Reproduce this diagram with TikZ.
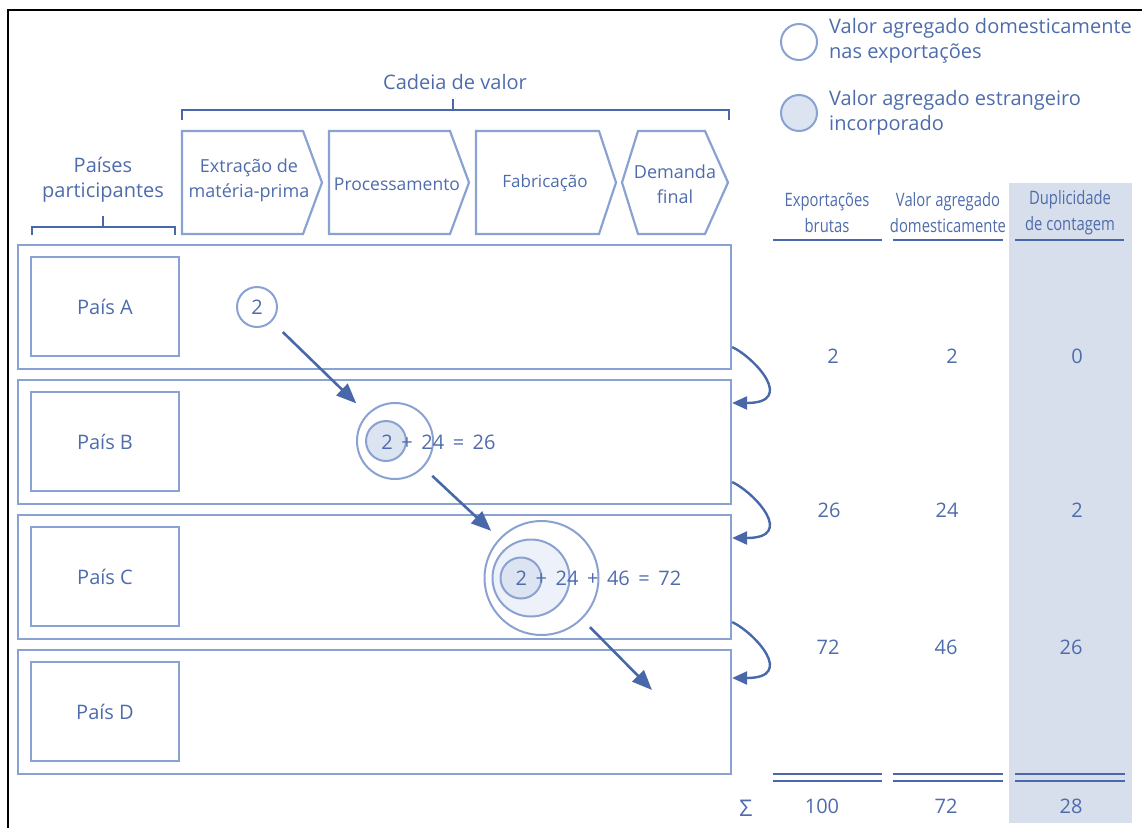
\documentclass[tikz,border=0pt]{standalone}
\usepackage{fontspec}
\setmainfont{Open Sans}
\usetikzlibrary{arrows.meta,calc}
\definecolor{tb}{RGB}{78,108,172}
\definecolor{lb}{RGB}{138,162,210}
\definecolor{db}{RGB}{72,104,170}
\definecolor{colshade}{RGB}{215,223,236}
\definecolor{fillin}{RGB}{220,227,241}
\definecolor{fillmid}{RGB}{237,241,249}
\newcommand{\cnd}[1]{\scalebox{0.8}[1]{#1}}
\begin{document}
\begin{tikzpicture}[x=1pt,y=-1pt,
  txt/.style={text=tb, font=\fontsize{20}{25}\selectfont, inner sep=0, align=center},
  hdr/.style={text=tb, font=\fontsize{18.5}{26}\selectfont, inner sep=0, align=center},
  stg/.style={text=tb, font=\fontsize{18}{25}\selectfont, inner sep=0, align=center},
  rowbox/.style={draw=lb, line width=2.2pt, minimum width=713pt, minimum height=124pt, inner sep=0},
  ctrybox/.style={draw=lb, line width=2.2pt, minimum width=148pt, minimum height=99pt, inner sep=0, text=tb, font=\fontsize{20}{22}\selectfont},
  chev/.style={draw=lb, line width=2.2pt, line join=miter},
  brk/.style={draw=db, line width=2.4pt},
  ring/.style={circle, draw=lb, line width=2pt, inner sep=0},
  flow/.style={draw=db, line width=2.6pt, -{Triangle[length=20pt,width=16pt]}},
  loop/.style={draw=db, line width=2.4pt, -{Triangle[length=15pt,width=13pt]}},
  uline/.style={draw=db, line width=2.5pt},
  dline/.style={draw=db, line width=2.2pt}
]
\useasboundingbox (0,0) rectangle (1142,827);
% frame
\draw[black, line width=1.8pt] (8,830) -- (8,10) -- (1145,10);
% shaded column
\fill[colshade] (1009,183) rectangle (1132,823);

% value chain header
\node[txt] (cadeia) at (455,82) {Cadeia de valor};
\draw[brk] (182,120) -- (182,110) -- (729,110) -- (729,120);
\draw[brk] (453,110) -- (453,99);
\node[txt] (paises) at (103,180) {Países\\participantes};
\draw[brk] (32,235) -- (32,227) -- (175,227) -- (175,235);
\draw[brk] (103,227) -- (103,216);

% chevrons
\draw[chev] (182,131) -- (303,131) -- (322,182.5) -- (303,234) -- (182,234) -- cycle;
\draw[chev] (329,131) -- (450,131) -- (469,182.5) -- (450,234) -- (329,234) -- cycle;
\draw[chev] (476,131) -- (599,131) -- (616,182.5) -- (599,234) -- (476,234) -- cycle;
\draw[chev] (622,182.5) -- (638,131) -- (705,131) -- (728,182.5) -- (705,234) -- (638,234) -- cycle;
\node[stg] (s1) at (249,180) {Extração de\\matéria-prima};
\node[stg, font=\fontsize{17.5}{25}\selectfont] (s2) at (397,184) {Processamento};
\node[stg, font=\fontsize{17}{25}\selectfont] (s3) at (545,183) {Fabricação};
\node[stg] (s4) at (675,184) {Demanda\\final};

% rows
\node[rowbox] (rowA) at (374.5,307) {};
\node[rowbox] (rowB) at (374.5,442) {};
\node[rowbox] (rowC) at (374.5,577) {};
\node[rowbox] (rowD) at (374.5,712) {};
\node[ctrybox] (pA) at (105,306.5) {País A};
\node[ctrybox] (pB) at (105,441.5) {País B};
\node[ctrybox] (pC) at (105,576.5) {País C};
\node[ctrybox] (pD) at (105,711.5) {País D};

% circles
\node[ring, minimum size=40pt, text=tb, font=\fontsize{20}{22}\selectfont] (cA) at (257,307) {2};
\node[ring, minimum size=76pt] (cB) at (395,441) {};
\node[ring, fill=fillin, minimum size=40pt] (cBi) at (386,441) {};
\node[txt] (tB) at (438.5,442) {2\,\ +\ \,24\,\ =\ \,26};
\node[ring, minimum size=114pt] (cC) at (541.5,578) {};
\node[ring, fill=fillmid, minimum size=77pt] (cCm) at (531,578) {};
\node[ring, fill=fillin, minimum size=41pt] (cCi) at (521,578) {};
\node[txt] (tC) at (598.5,578) {2\,\ +\ \,24\,\ +\ \,46\,\ =\ \,72};
\coordinate (dEnd) at (652,690);

% flow arrows
\draw[flow, shorten <=15pt, shorten >=15pt] (cA) -- (cB);
\draw[flow, shorten <=12pt, shorten >=11pt] (cB) -- (cC);
\draw[flow, shorten <=11pt] (cC) -- (dEnd);

% loops
\coordinate (a1) at ([yshift=-40pt]rowA.east);
\coordinate (b1) at ([yshift=39pt]rowB.east);
\coordinate (b2) at ([yshift=-40pt]rowB.east);
\coordinate (c1) at ([yshift=39pt]rowC.east);
\coordinate (c2) at ([yshift=-45pt]rowC.east);
\coordinate (d1) at ([yshift=34pt]rowD.east);
\draw[loop] (a1) .. controls +(23,11) and +(64,0) .. (b1);
\draw[loop] (b2) .. controls +(23,11) and +(64,0) .. (c1);
\draw[loop] (c2) .. controls +(23,11) and +(64,0) .. (d1);

% legend
\node[ring, minimum size=36pt] (lg1) at (799,42) {};
\node[ring, fill=fillin, minimum size=36pt] (lg2) at (799,113) {};
\node[txt, anchor=west, align=left] (lt1) at (829,40.5) {Valor agregado domesticamente\\nas exportações};
\node[txt, anchor=west, align=left] (lt2) at (829,112.5) {Valor agregado estrangeiro\\incorporado};

% table header
\node[hdr] (h1) at (827,213) {\cnd{Exportações}\\\cnd{brutas}};
\node[hdr] (h2) at (948,213) {\cnd{Valor agregado}\\\cnd{domesticamente}};
\node[hdr] (h3) at (1070,213) {\cnd{Duplicidade}\\\cnd{de contagem}};
\draw[uline] (773,240) -- (882,240);
\draw[uline] (893,240) -- (1003,240);
\draw[uline] (1015,240) -- (1124,240);

% values
\node[txt] (v11) at (833,356) {2};
\node[txt] (v12) at (952,356) {2};
\node[txt] (v13) at (1077,356) {0};
\node[txt] (v21) at (829,510) {26};
\node[txt] (v22) at (947,510) {24};
\node[txt] (v23) at (1077,510) {2};
\node[txt] (v31) at (828,647) {72};
\node[txt] (v32) at (946,647) {46};
\node[txt] (v33) at (1071,647) {26};

% sums
\foreach \a/\b in {773/882, 893/1003, 1015/1125}{
  \draw[dline] (\a,774) -- (\b,774);
  \draw[dline] (\a,781) -- (\b,781);
}
\node[txt, font=\fontsize{23}{25}\selectfont] (sig) at (746,808) {Σ};
\node[txt] (s1v) at (822,806) {100};
\node[txt] (s2v) at (946,806) {72};
\node[txt] (s3v) at (1071,806) {28};
\end{tikzpicture}
\end{document}
